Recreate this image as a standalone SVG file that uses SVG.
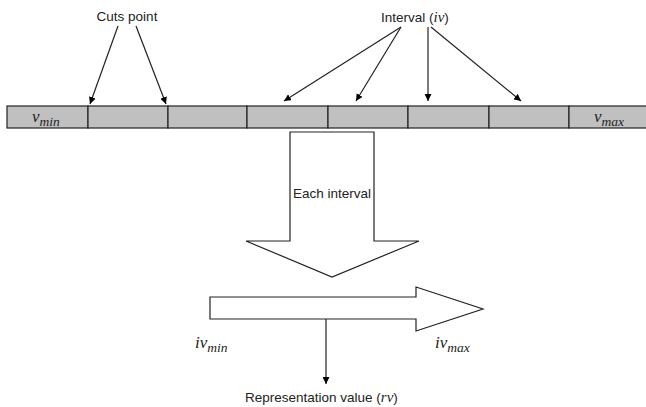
<svg xmlns="http://www.w3.org/2000/svg" width="646" height="407" viewBox="0 0 646 407">
<defs>
<marker id="ah" viewBox="0 0 10 10" refX="10" refY="5" markerWidth="7" markerHeight="7" markerUnits="userSpaceOnUse" orient="auto">
<path d="M0,0 L10,5 L0,10 z" fill="#000"/>
</marker>
<style>
.lbl{font-family:"Liberation Sans",Arial,sans-serif;font-size:13.5px;fill:#222}
.math{font-family:"Liberation Serif","Times New Roman",serif;font-style:italic;fill:#222}
.cell{fill:#c0c0c0;stroke:#222;stroke-width:1.2}
.conn{stroke:#222;stroke-width:1.2;fill:none;marker-end:url(#ah)}
.big{fill:#fff;stroke:#222;stroke-width:1.2}
</style>
</defs>
<rect width="646" height="407" fill="#fff"/>
<g id="bar">
<rect class="cell" x="7" y="106" width="81" height="22"/>
<rect class="cell" x="88" y="106" width="80" height="22"/>
<rect class="cell" x="168" y="106" width="79" height="22"/>
<rect class="cell" x="247" y="106" width="81" height="22"/>
<rect class="cell" x="328" y="106" width="80" height="22"/>
<rect class="cell" x="408" y="106" width="81" height="22"/>
<rect class="cell" x="489" y="106" width="80" height="22"/>
<rect class="cell" x="569" y="106" width="78" height="22"/>
<text class="math" x="32" y="122" font-size="17">v<tspan font-size="13.5" dy="4">min</tspan></text>
<text class="math" x="594" y="122" font-size="17">v<tspan font-size="13.5" dy="4">max</tspan></text>
</g>
<g id="cuts-label">
<text class="lbl" x="127" y="21" text-anchor="middle">Cuts point</text>
</g>
<g id="interval-label">
<text class="lbl" x="381" y="22">Interval (<tspan class="math" font-size="15">iv</tspan>)</text>
</g>
<g id="each-interval">
<path class="big" d="M290,132 L374,132 L374,241 L419,241 L332,277 L246,241 L290,241 Z"/>
<text class="lbl" x="332" y="198" text-anchor="middle">Each interval</text>
</g>
<g id="range-arrow">
<path class="big" d="M210,297 L416,297 L416,287 L483,309 L416,331 L416,319 L210,319 Z"/>
<text class="math" x="195" y="348" font-size="17">iv<tspan font-size="13.5" dy="4">min</tspan></text>
<text class="math" x="435" y="348" font-size="17">iv<tspan font-size="13.5" dy="4">max</tspan></text>
</g>
<g id="rv-label">
<text class="lbl" x="245" y="402">Representation value (<tspan class="math" font-size="15">rv</tspan>)</text>
</g>
<g id="connectors">
<line class="conn" x1="118" y1="26" x2="90" y2="104"/>
<line class="conn" x1="136" y1="26" x2="166" y2="104"/>
<line class="conn" x1="401" y1="27" x2="284" y2="101"/>
<line class="conn" x1="401" y1="27" x2="356" y2="101"/>
<line class="conn" x1="428" y1="27" x2="428" y2="101"/>
<line class="conn" x1="431" y1="27" x2="521" y2="101"/>
<line class="conn" x1="326" y1="319" x2="326" y2="384"/>
</g>
</svg>
